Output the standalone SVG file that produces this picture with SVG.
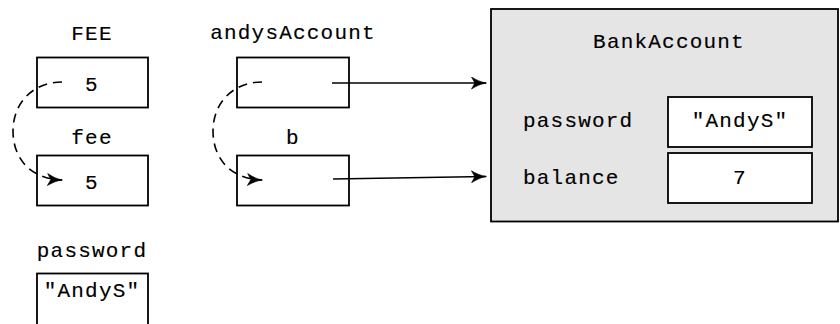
<svg xmlns="http://www.w3.org/2000/svg" width="840" height="324" viewBox="0 0 840 324">
  <style>
    .box { fill: #ffffff; stroke: #000000; stroke-width: 1.8; }
    .obj { fill: #e5e5e5; stroke: #000000; stroke-width: 1.8; }
    .t { font-family: "Liberation Mono", "Courier New", monospace; font-size: 21px; letter-spacing: 1.2px; fill: #000000; stroke: #000000; stroke-width: 0.15; }
    .mid { text-anchor: middle; }
    .ref { fill: none; stroke: #000000; stroke-width: 1.6; }
    .copy { fill: none; stroke: #000000; stroke-width: 1.6; stroke-dasharray: 9 6; }
  </style>
  <defs>
    <marker id="head" viewBox="0 0 16 13" refX="15" refY="6.5" markerWidth="16" markerHeight="13" markerUnits="userSpaceOnUse" orient="auto">
      <path d="M0.5,0.5 C5,3.2 9.5,5.6 15.5,6.5 C9.5,7.4 5,9.8 0.5,12.5 L3.8,6.5 Z" fill="#000000" stroke="#000000" stroke-width="0.6" stroke-linejoin="round"/>
    </marker>
  </defs>

  <!-- BankAccount object -->
  <g id="bankAccount">
    <rect class="obj" x="491" y="9" width="347" height="212.5"/>
    <text class="t mid" x="669" y="48">BankAccount</text>
    <text class="t" x="523" y="127">password</text>
    <rect class="box" x="668" y="97" width="144" height="50"/>
    <text class="t mid" x="740" y="127">"AndyS"</text>
    <text class="t" x="523" y="184">balance</text>
    <rect class="box" x="668" y="153" width="144" height="50"/>
    <text class="t mid" x="740" y="184">7</text>
  </g>

  <!-- primitive variables -->
  <g id="FEE">
    <text class="t mid" x="92" y="39.5">FEE</text>
    <rect class="box" x="37" y="57.5" width="111" height="50"/>
    <text class="t mid" x="92" y="90.5">5</text>
  </g>
  <g id="fee">
    <text class="t mid" x="92" y="144">fee</text>
    <rect class="box" x="37" y="155.5" width="111" height="50"/>
    <text class="t mid" x="92" y="189">5</text>
  </g>
  <g id="password">
    <text class="t mid" x="92" y="256.5">password</text>
    <rect class="box" x="37" y="273.5" width="111" height="52"/>
    <text class="t mid" x="92" y="297">"AndyS"</text>
  </g>

  <!-- reference variables -->
  <g id="andysAccount">
    <text class="t mid" x="293" y="38.5">andysAccount</text>
    <rect class="box" x="237" y="57.5" width="112" height="50"/>
  </g>
  <g id="b">
    <text class="t mid" x="293" y="143.5">b</text>
    <rect class="box" x="237" y="155.5" width="112" height="50"/>
  </g>

  <!-- connectors -->
  <g id="connectors">
    <path class="ref" d="M332,83 L486,83" marker-end="url(#head)"/>
    <path class="ref" d="M333,179 L486,176.5" marker-end="url(#head)"/>
    <path class="copy" d="M62,82 C32,82 13,104 13,131 C13,158 30,179 62,180" marker-end="url(#head)"/>
    <path class="copy" d="M262,82 C232,82 213,104 213,131 C213,158 230,179 262,180" marker-end="url(#head)"/>
  </g>
</svg>
